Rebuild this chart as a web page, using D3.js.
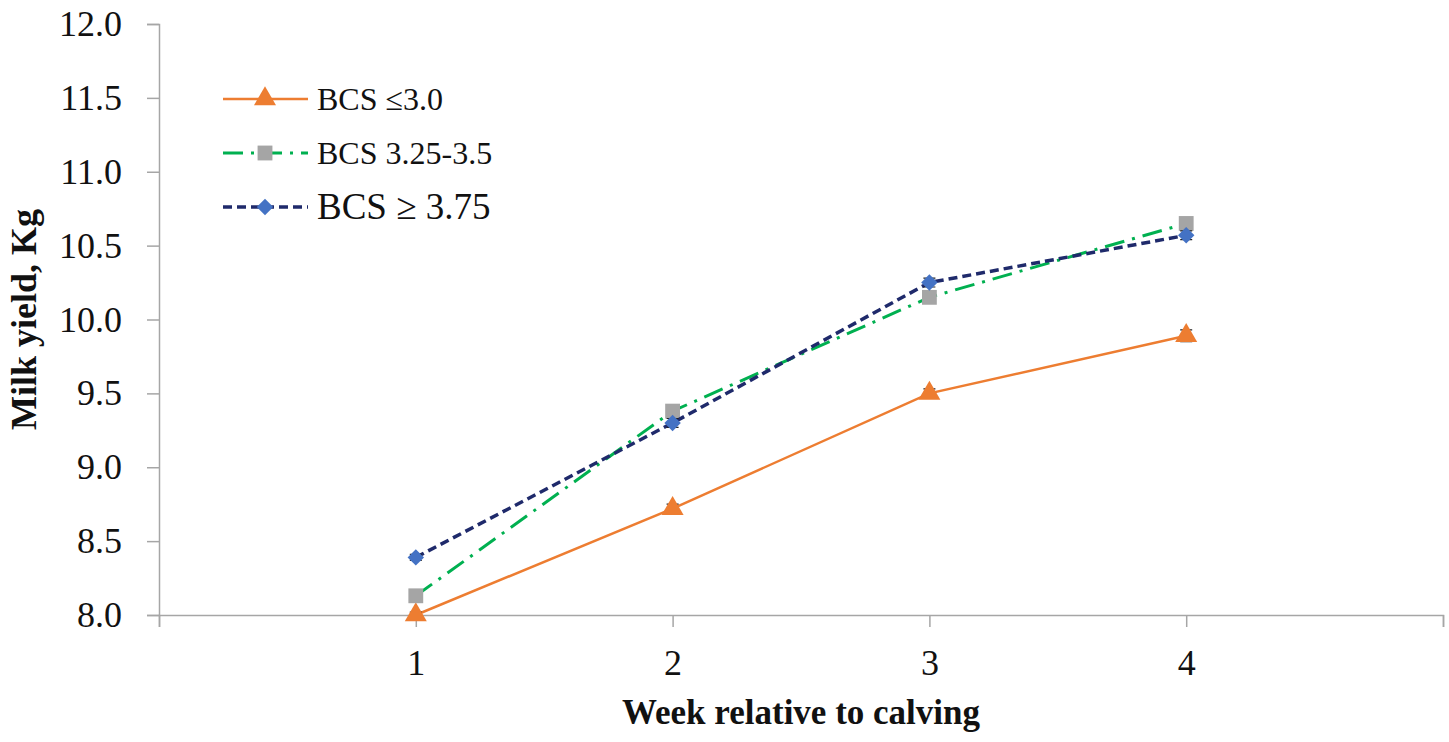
<!DOCTYPE html>
<html><head><meta charset="utf-8">
<script src="https://cdn.jsdelivr.net/npm/d3@7"></script>
<style>body{margin:0;background:#fff}svg{display:block}</style>
</head><body>
<script>
const weeks = [1, 2, 3, 4];
const seriesNames = ["BCS \u22643.0", "BCS 3.25-3.5", "BCS \u2265 3.75"];
const bcsLow = [8.00, 8.72, 9.50, 9.89];
const bcsMid = [8.13, 9.38, 10.15, 10.65];
const bcsHigh = [8.39, 9.30, 10.25, 10.57];
const errLow = [0.02, 0.03, 0.03, 0.04];
const errMid = [0.02, 0.03, 0.03, 0.04];
const errHigh = [0.02, 0.03, 0.03, 0.03];
const yTicks = [8.0, 8.5, 9.0, 9.5, 10.0, 10.5, 11.0, 11.5, 12.0];
const xTicks = [0, 1, 2, 3, 4, 5];
const xLabels = ["", "1", "2", "3", "4", ""];

const W = 1449, H = 742;
const svg = d3.select("body").append("svg").attr("width", W).attr("height", H);
const x = d3.scaleLinear().domain([0, 5]).range([159, 1443]);
const y = d3.scaleLinear().domain([8, 12]).range([615, 24]);
const serif = "'Liberation Serif','Times New Roman',serif";
const axisColor = "#a6a6a6";

// Y axis
const yAxis = svg.append("g").attr("transform", `translate(${x(0)},0)`)
  .call(d3.axisLeft(y).tickValues(yTicks).tickFormat(d3.format(".1f")).tickSize(12).tickPadding(25));
yAxis.select(".domain").attr("stroke", axisColor).attr("stroke-width", 1.5);
yAxis.selectAll(".tick line").attr("stroke", axisColor).attr("stroke-width", 1.5);
yAxis.selectAll(".tick text").attr("font-family", serif).attr("font-size", 36).attr("fill", "#111");

// X axis
const xAxis = svg.append("g").attr("transform", `translate(0,${y(8)})`)
  .call(d3.axisBottom(x).tickValues(xTicks).tickFormat((d, i) => xLabels[i]).tickSize(12).tickPadding(22));
xAxis.select(".domain").attr("stroke", axisColor).attr("stroke-width", 1.5);
xAxis.selectAll(".tick line").attr("stroke", axisColor).attr("stroke-width", 1.5);
xAxis.selectAll(".tick text").attr("font-family", serif).attr("font-size", 36).attr("fill", "#111");

// Titles
svg.append("text").attr("x", (x(0) + x(5)) / 2).attr("y", 724).attr("text-anchor", "middle")
  .attr("font-family", serif).attr("font-weight", "bold").attr("font-size", 35).attr("fill", "#111")
  .text("Week relative to calving");
svg.append("text").attr("transform", `translate(36,${(y(8) + y(12)) / 2}) rotate(-90)`).attr("text-anchor", "middle")
  .attr("font-family", serif).attr("font-weight", "bold").attr("font-size", 36).attr("fill", "#111")
  .text("Milk yield, Kg");

const styles = [
  {vals: bcsLow, err: errLow, color: "#ED7D31", dash: null, width: 2.5, marker: d3.symbolTriangle, msize: 210, rot: 0, mcolor: "#ED7D31"},
  {vals: bcsMid, err: errMid, color: "#00B050", dash: "20,8,3,8", width: 3, marker: d3.symbolSquare, msize: 220, rot: 0, mcolor: "#A5A5A5"},
  {vals: bcsHigh, err: errHigh, color: "#1F2A6B", dash: "9,5", width: 3.5, marker: d3.symbolSquare, msize: 135, rot: 45, mcolor: "#4472C4"}
];

const line = d3.line().x((d, i) => x(weeks[i])).y(d => y(d));

styles.forEach(s => {
  const g = svg.append("g");
  g.append("path").datum(s.vals).attr("d", line).attr("fill", "none")
    .attr("stroke", s.color).attr("stroke-width", s.width).attr("stroke-dasharray", s.dash);
  g.selectAll(".eb").data(s.vals).enter().append("path")
    .attr("d", (d, i) => {
      const cx = x(weeks[i]), y1 = y(d + s.err[i]), y2 = y(d - s.err[i]);
      return `M${cx - 6},${y1}H${cx + 6}M${cx},${y1}V${y2}M${cx - 6},${y2}H${cx + 6}`;
    }).attr("stroke", "#222").attr("stroke-width", 1.2).attr("fill", "none");
  g.selectAll(".mk").data(s.vals).enter().append("path")
    .attr("d", d3.symbol().type(s.marker).size(s.msize))
    .attr("transform", (d, i) => `translate(${x(weeks[i])},${y(d)}) rotate(${s.rot})`)
    .attr("fill", s.mcolor);
});

// Legend
const legY = [99, 153, 207];
const legFont = [32, 32, 37];
styles.forEach((s, i) => {
  const g = svg.append("g");
  g.append("line").attr("x1", 223).attr("x2", 308).attr("y1", legY[i]).attr("y2", legY[i])
    .attr("stroke", s.color).attr("stroke-width", s.width).attr("stroke-dasharray", s.dash);
  g.append("path").attr("d", d3.symbol().type(s.marker).size(s.msize))
    .attr("transform", `translate(265,${legY[i]}) rotate(${s.rot})`).attr("fill", s.mcolor);
  g.append("text").attr("x", 317).attr("y", legY[i] + (i === 2 ? 12 : 11))
    .attr("font-family", serif).attr("font-size", legFont[i]).attr("fill", "#111")
    .text(seriesNames[i]);
});
</script>
</body></html>
